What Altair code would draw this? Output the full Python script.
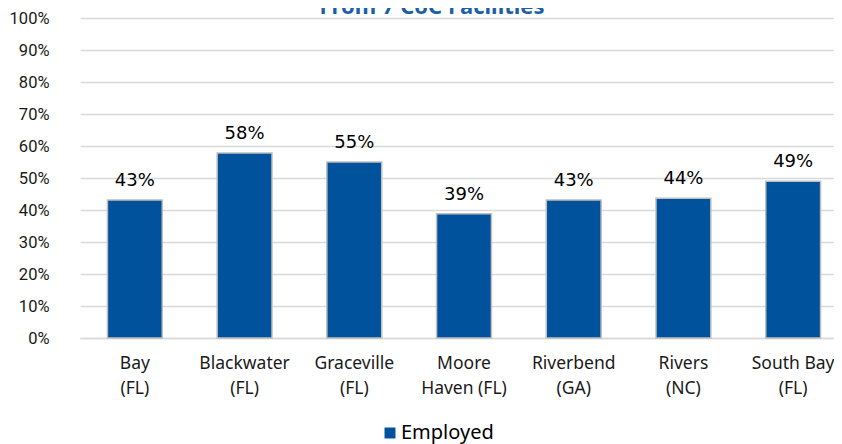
import altair as alt
import pandas as pd

facilities = ["Bay\n(FL)", "Blackwater\n(FL)", "Graceville\n(FL)", "Moore\nHaven (FL)",
              "Riverbend\n(GA)", "Rivers\n(NC)", "South Bay\n(FL)"]
employed = [0.431, 0.578, 0.55, 0.388, 0.431, 0.437, 0.49]
labels = ["43%", "58%", "55%", "39%", "43%", "44%", "49%"]
y_ticks = [0, 0.1, 0.2, 0.3, 0.4, 0.5, 0.6, 0.7, 0.8, 0.9, 1.0]
series_name = "Employed"
title_text = "From 7 CoC Facilities"

BLUE = "#00529C"

df = pd.DataFrame({"facility": facilities, "value": employed, "label": labels,
                   "series": [series_name] * len(facilities)})

x_enc = alt.X("facility:N", sort=facilities,
              scale=alt.Scale(range=[27, 795], paddingInner=0.5, paddingOuter=0.25),
              axis=alt.Axis(title=None, labelExpr="split(datum.label, '\\n')",
                            labelAngle=0, labelFont="Noto Sans", labelFontSize=17.5,
                            labelColor="#1a1a1a", labelLineHeight=25, labelPadding=16,
                            ticks=False, domainColor="#D9D9D9", domainWidth=1.5,
                            labelBaseline="top"))

y_enc = alt.Y("value:Q", scale=alt.Scale(domain=[0, 1]),
              axis=alt.Axis(title=None, values=y_ticks, format=".0%", ticks=False,
                            domain=False, gridColor="#D9D9D9", gridWidth=1.5,
                            labelFont="Roboto", labelFontSize=16.5,
                            labelColor="#1a1a1a", labelPadding=4, labelOverlap=False))

bars = alt.Chart(df).mark_bar(stroke="#BFBFBF", strokeWidth=1.5).encode(
    x=x_enc, y=y_enc,
    color=alt.Color("series:N", scale=alt.Scale(domain=[series_name], range=[BLUE]),
                    legend=alt.Legend(title=None, orient="none", legendX=327, legendY=405,
                                      symbolType="square", symbolSize=120,
                                      labelFont="Noto Sans", labelFontSize=20,
                                      labelColor="#000000", symbolStrokeWidth=0,
                                      labelOffset=1))
)

text = alt.Chart(df).mark_text(font="DejaVu Sans", fontSize=18, color="#000000",
                               baseline="alphabetic", dy=-14).encode(
    x=x_enc, y=y_enc, text="label:N")

title_df = pd.DataFrame({"t": [title_text]})
title = alt.Chart(title_df).mark_text(font="Noto Sans", fontSize=22, fontWeight="bold",
                                      color="#1B5FA8", align="center",
                                      baseline="alphabetic").encode(
    x=alt.value(379), y=alt.value(-4), text="t:N")

chart = alt.layer(bars, text, title).properties(
    width=781, height=320,
    autosize=alt.AutoSizeParams(type="none"),
    padding={"left": 45, "top": 10, "right": 0, "bottom": 106},
).configure_view(stroke=None)

chart.save("out.html", embed_options={"renderer": "svg", "actions": False})
